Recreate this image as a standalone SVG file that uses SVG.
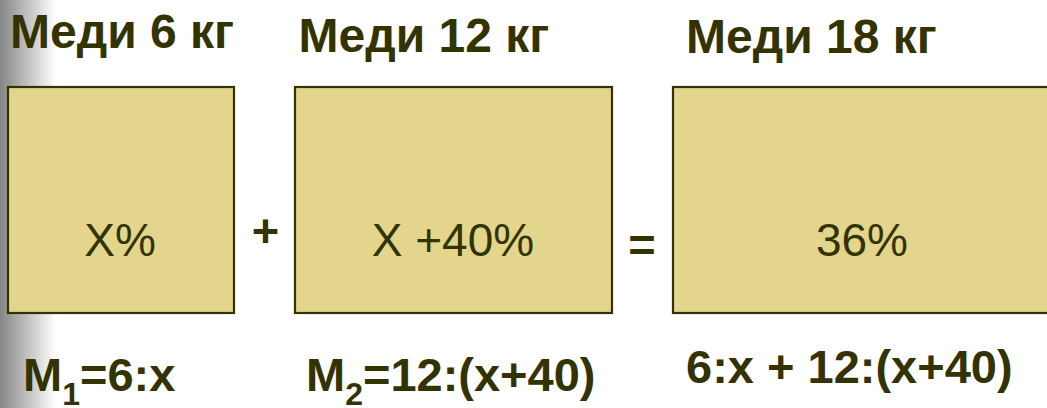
<svg xmlns="http://www.w3.org/2000/svg" width="1047" height="408" viewBox="0 0 1047 408">
  <defs>
    <linearGradient id="edge" x1="0" y1="0" x2="1" y2="0">
      <stop offset="0" stop-color="#858585"/>
      <stop offset="0.35" stop-color="#b0b0b0"/>
      <stop offset="1" stop-color="#ffffff"/>
    </linearGradient>
  </defs>
  <style>
    .box { fill: #E3D58C; stroke: #333300; stroke-width: 2.2; }
    .t { font-family: "Liberation Sans", Arial, sans-serif; fill: #333300; }
    .b { font-weight: bold; font-size: 47px; }
    .h { font-weight: bold; font-size: 48px; }
    .r { font-size: 46px; }
    .sub { font-size: 32px; }
  </style>
  <rect x="0" y="0" width="1047" height="408" fill="#ffffff"/>
  <rect x="0" y="0" width="56" height="408" fill="url(#edge)"/>

  <g id="node1">
    <text class="t h" x="10" y="48">Меди 6 кг</text>
    <rect class="box" x="8" y="87" width="226" height="226"/>
    <text class="t r" x="120" y="256" text-anchor="middle">X%</text>
    <text class="t b" x="23" y="391">M<tspan class="sub" dy="14">1</tspan><tspan dy="-14">=6:x</tspan></text>
  </g>

  <g id="plus">
    <text class="t b" x="265.5" y="247" text-anchor="middle" font-size="48">+</text>
  </g>

  <g id="node2">
    <text class="t h" x="298.5" y="52">Меди 12 кг</text>
    <rect class="box" x="295" y="87" width="317" height="226"/>
    <text class="t r" x="453" y="256" text-anchor="middle">X +40%</text>
    <text class="t b" x="306" y="391">M<tspan class="sub" dy="14">2</tspan><tspan dy="-14">=12:(x+40)</tspan></text>
  </g>

  <g id="equals">
    <text class="t b" x="642" y="261" text-anchor="middle" font-size="48">=</text>
  </g>

  <g id="node3">
    <text class="t h" x="686" y="53">Меди 18 кг</text>
    <rect class="box" x="673" y="87" width="380" height="226"/>
    <text class="t r" x="862" y="256" text-anchor="middle">36%</text>
    <text class="t b" x="686" y="383" font-size="48">6:x + 12:(x+40)</text>
  </g>

  <g id="connectors"/>
</svg>
